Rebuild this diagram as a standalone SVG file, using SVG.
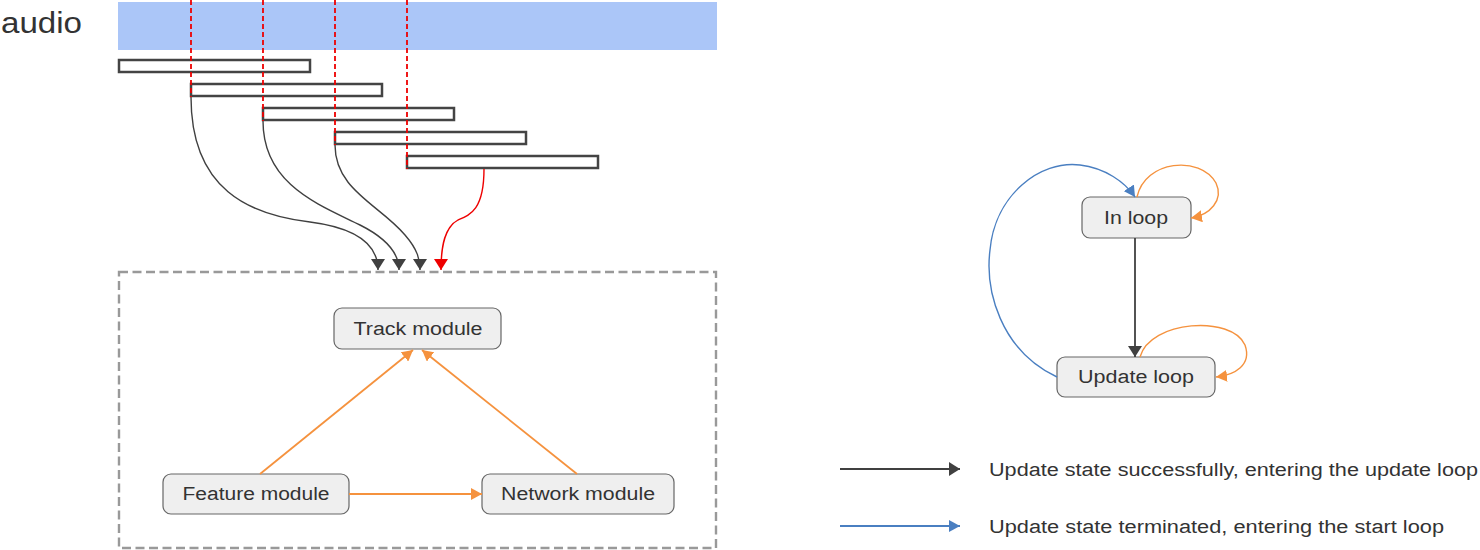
<svg xmlns="http://www.w3.org/2000/svg" width="1480" height="550" viewBox="0 0 1480 550">
<style>
  text { font-family: "Liberation Sans", Arial, sans-serif; fill: #333; }
  .lbl { font-size: 18px; text-anchor: middle; }
  .leg { font-size: 18px; }
  .node { fill: #efefef; stroke: #666; stroke-width: 1.2; }
  .bar { fill: #fff; stroke: #444; stroke-width: 2.5; }
  .cut { stroke: #e00; stroke-width: 1.8; stroke-dasharray: 5 3; fill: none; }
  .dk { stroke: #404040; stroke-width: 1.4; fill: none; }
  .rd { stroke: #e00; stroke-width: 1.4; fill: none; }
  .or { stroke: #f5923e; stroke-width: 1.8; fill: none; }
  .bl { stroke: #4a7fc1; stroke-width: 1.4; fill: none; }
</style>
<defs>
  <marker id="aDk" markerUnits="userSpaceOnUse" viewBox="0 0 11 14" markerWidth="11" markerHeight="14" refX="11" refY="7" orient="auto"><path d="M0,0 L11,7 L0,14 z" fill="#404040"/></marker>
  <marker id="aRd" markerUnits="userSpaceOnUse" viewBox="0 0 11 14" markerWidth="11" markerHeight="14" refX="11" refY="7" orient="auto"><path d="M0,0 L11,7 L0,14 z" fill="#e00"/></marker>
  <marker id="aOr" markerUnits="userSpaceOnUse" viewBox="0 0 11 12" markerWidth="11" markerHeight="12" refX="11" refY="6" orient="auto"><path d="M0,0 L11,6 L0,12 z" fill="#f5923e"/></marker>
  <marker id="aBl" markerUnits="userSpaceOnUse" viewBox="0 0 11 12" markerWidth="11" markerHeight="12" refX="11" refY="6" orient="auto"><path d="M0,0 L11,6 L0,12 z" fill="#4a7fc1"/></marker>
</defs>

<g id="audio">
  <text x="1" y="33" font-size="30" textLength="81" lengthAdjust="spacingAndGlyphs">audio</text>
  <rect x="118" y="2" width="599" height="48" fill="#abc6f8"/>
</g>

<g id="frames">
  <rect class="bar" x="119" y="60" width="191" height="12"/>
  <rect class="bar" x="191" y="84" width="191" height="12"/>
  <rect class="bar" x="263" y="108" width="191" height="12"/>
  <rect class="bar" x="335" y="132" width="191" height="12"/>
  <rect class="bar" x="407" y="156" width="191" height="12"/>
</g>

<g id="cuts">
  <line class="cut" x1="191" y1="0" x2="191" y2="97"/>
  <line class="cut" x1="263" y1="0" x2="263" y2="121"/>
  <line class="cut" x1="335" y1="0" x2="335" y2="145"/>
  <line class="cut" x1="407" y1="0" x2="407" y2="169"/>
</g>

<g id="container">
  <rect x="119" y="272" width="597" height="276" fill="none" stroke="#999" stroke-width="2.4" stroke-dasharray="9 4.5"/>
</g>

<g id="track-module">
  <rect class="node" x="334" y="308" width="167" height="41" rx="8"/>
  <text class="lbl" x="418" y="335" textLength="129" lengthAdjust="spacingAndGlyphs">Track module</text>
</g>
<g id="feature-module">
  <rect class="node" x="163" y="474" width="186" height="40" rx="8"/>
  <text class="lbl" x="256" y="500" textLength="147" lengthAdjust="spacingAndGlyphs">Feature module</text>
</g>
<g id="network-module">
  <rect class="node" x="482" y="474" width="192" height="40" rx="8"/>
  <text class="lbl" x="578" y="500" textLength="154" lengthAdjust="spacingAndGlyphs">Network module</text>
</g>

<g id="in-loop">
  <rect class="node" x="1082" y="197" width="109" height="41" rx="8"/>
  <text class="lbl" x="1136" y="224" textLength="64" lengthAdjust="spacingAndGlyphs">In loop</text>
</g>
<g id="update-loop">
  <rect class="node" x="1057" y="357" width="158" height="40" rx="8"/>
  <text class="lbl" x="1136" y="383" textLength="116" lengthAdjust="spacingAndGlyphs">Update loop</text>
</g>

<g id="connectors">
  <path class="dk" marker-end="url(#aDk)" d="M191,97 C191,190 250,215 310,222 C365,229 378,250 378,270"/>
  <path class="dk" marker-end="url(#aDk)" d="M263,121 C263,185 320,205 360,225 C390,240 399,255 399,270"/>
  <path class="dk" marker-end="url(#aDk)" d="M335,145 C335,190 380,205 405,235 C418,250 420,260 420,270"/>
  <path class="rd" marker-end="url(#aRd)" d="M484,169 C484,210 470,215 458,220 C445,227 441,245 441,270"/>

  <path class="or" marker-end="url(#aOr)" d="M260,474 L413,350"/>
  <path class="or" marker-end="url(#aOr)" d="M577,474 L422,350"/>
  <path class="or" marker-end="url(#aOr)" d="M349,494 L482,494"/>

  <path class="dk" style="stroke-width:1.8" marker-end="url(#aDk)" d="M1135,238 L1135,357"/>
  <path class="bl" marker-end="url(#aBl)" d="M1057,377 C1000,350 985,290 990,250 C995,195 1040,160 1080,165 C1105,168 1125,182 1135,197"/>
  <path class="or" style="stroke-width:1.4" marker-end="url(#aOr)" d="M1137,197 C1145,160 1200,155 1216,183 C1224,200 1210,215 1191,218"/>
  <path class="or" style="stroke-width:1.4" marker-end="url(#aOr)" d="M1140,357 C1150,320 1232,315 1245,345 C1252,365 1235,375 1216,377"/>
</g>

<g id="legend">
  <path class="dk" style="stroke-width:1.8" marker-end="url(#aDk)" d="M840,469 L960,469"/>
  <text class="leg" x="989" y="476" textLength="489" lengthAdjust="spacingAndGlyphs">Update state successfully, entering the update loop</text>
  <path class="bl" style="stroke-width:1.8" marker-end="url(#aBl)" d="M840,526 L960,526"/>
  <text class="leg" x="989" y="533" textLength="455" lengthAdjust="spacingAndGlyphs">Update state terminated, entering the start loop</text>
</g>
</svg>
